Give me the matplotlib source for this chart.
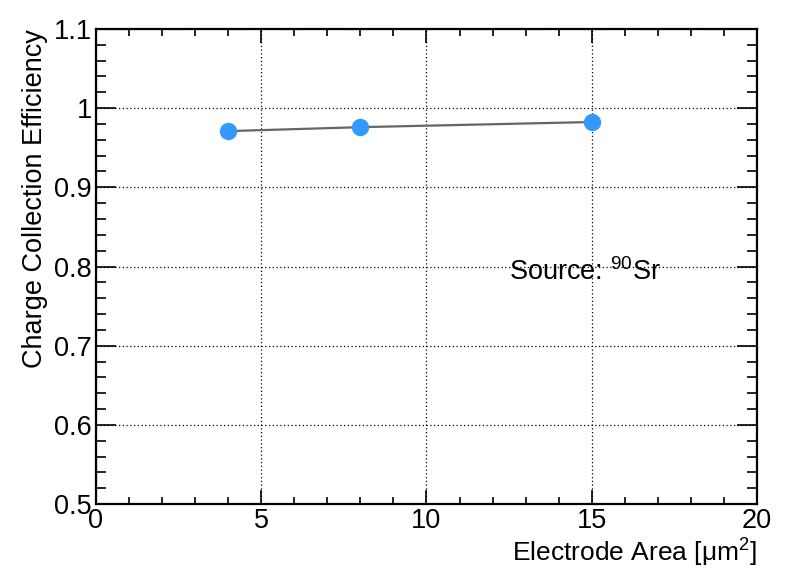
import numpy as np
from matplotlib import pyplot as plt
from matplotlib.ticker import MultipleLocator

# Values
electrode_area = [4, 8, 15]
cce = [0.971, 0.976, 0.9825]

plt.rcParams['font.family'] = ['Liberation Sans', 'DejaVu Sans']
plt.rcParams['mathtext.fontset'] = 'custom'
plt.rcParams['mathtext.rm'] = 'Liberation Sans'
plt.rcParams['mathtext.it'] = 'Liberation Sans:italic'


def make_plot():
    fig = plt.figure(figsize=(7.98, 5.73), dpi=100)
    ax = fig.add_axes([0.1203, 0.1204, 0.8283, 0.829])

    ax.plot(electrode_area, cce, color='#666666', lw=1.6, zorder=3)
    ax.plot(electrode_area, cce, 'o', color='#3399ff', ms=11.5, zorder=4)

    ax.set_xlim(0, 20)
    ax.set_ylim(0.5, 1.1)
    ax.xaxis.set_major_locator(MultipleLocator(5))
    ax.xaxis.set_minor_locator(MultipleLocator(1))
    ax.yaxis.set_minor_locator(MultipleLocator(0.02))
    ax.set_yticks(np.arange(0.5, 1.101, 0.1))
    ax.set_yticklabels(['0.5', '0.6', '0.7', '0.8', '0.9', '1', '1.1'])

    ax.tick_params(axis='both', which='both', direction='in',
                   top=True, right=True, labelsize=19.5, width=1.2)
    ax.tick_params(axis='x', which='major', length=10, pad=3)
    ax.tick_params(axis='x', which='minor', length=5)
    ax.tick_params(axis='y', which='major', length=14.5, pad=3)
    ax.tick_params(axis='y', which='minor', length=7.2)
    for s in ax.spines.values():
        s.set_linewidth(1.6)

    ax.grid(True, which='major', color='black', linestyle=(0, (1, 2)), lw=0.9)

    ax.set_xlabel('Electrode Area [μm$^2$]', fontsize=19, loc='right', labelpad=2)
    ax.set_ylabel('Charge Collection Efficiency', fontsize=19.5, loc='top', labelpad=4)

    ax.text(12.5, 0.783, 'Source: $^{90}$Sr', fontsize=19.5, ha='left', va='baseline')

    fig.savefig('out.png', dpi=100)


make_plot()
